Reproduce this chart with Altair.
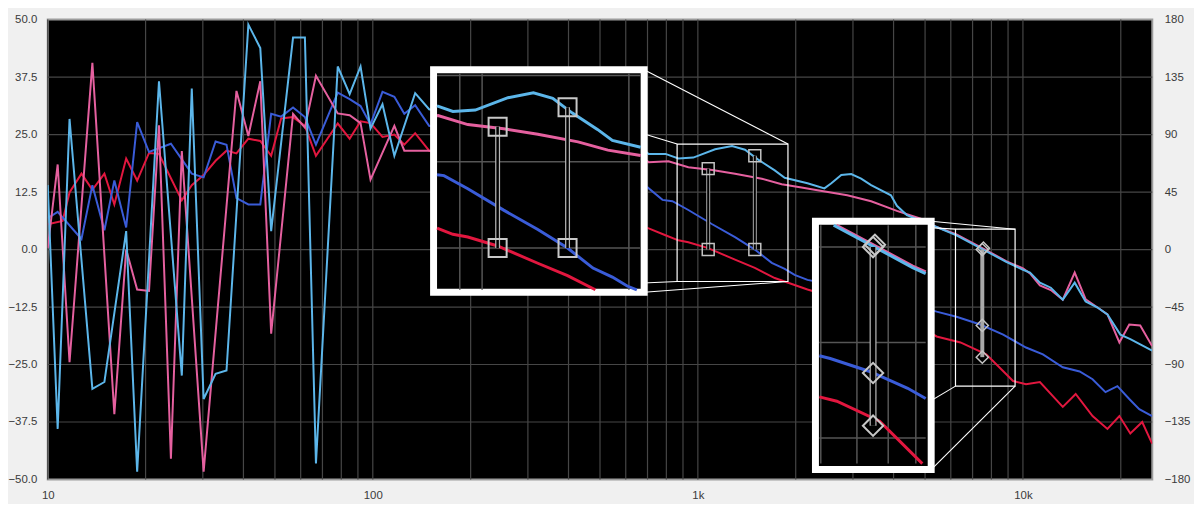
import math
import altair as alt
import pandas as pd

# ---------------- data (frequency in Hz, level in dB) ----------------
LB_F = [10.0, 10.73, 11.67, 13.72, 14.94, 17.43, 18.84, 21.99, 25.85, 27.74, 30.17, 32.84, 35.48,
        41.42, 45.07, 48.68, 56.84, 61.82, 66.85, 78.01, 84.88, 91.69, 98.40, 107.1, 116.5, 135.0,
        149.0, 194.7, 276.7, 422.1, 643.9, 705.6, 795.0, 871.2, 968.3, 1130, 1274, 1396, 1529, 1724,
        1850, 2174, 2451, 2574, 2762, 2963, 3179, 3412, 3926, 4095, 4394, 5426, 6246, 7552, 8879,
        10007, 10512, 11279, 12185, 13262, 14429, 15589, 16963, 18197, 19943, 21396, 24973]
LB_DB = [14, -39, 28.4, -30.3, -28.8, 4, -48.3, 36.6, -27.4, 35, -32.5, -27, -26.3,
         48.9, 43.8, 4, 46.1, 46.1, -46.5, 39.8, 33.8, 39.8, 26.3, 31.6, 20.4, 34,
         30.5, 29, 31, 27, 23.2, 20.8, 20.8, 19.8, 20, 21.8, 22.5, 21.7, 19.6, 17.2,
         15.6, 14.4, 13.3, 14.4, 16.2, 16.4, 15.4, 14, 11.8, 9.5, 7.5, 4.9, 3.1, 0, -2.7,
         -4.4, -5, -7.2, -8.3, -10.9, -7.2, -11.3, -12.6, -14.1, -18.5, -19.5, -22]

PK_F = [10.0, 10.73, 11.67, 13.72, 16.03, 17.43, 18.84, 20.49, 21.99, 23.93, 25.85, 30.17, 38.07,
        41.42, 45.07, 48.68, 56.84, 61.82, 66.85, 78.01, 84.88, 91.69, 98.40, 116.5, 125.0, 135.0,
        149.0, 194.7, 318.7, 485.9, 643.9, 705.6, 812.0, 934.8, 1107, 1301, 1573, 1811, 2084, 2333,
        2881, 3412, 4095, 4851, 5426, 6246, 7552, 8879, 10007, 10512, 11279, 12185, 13262, 14429,
        15589, 16963, 18197, 19803, 21240, 22954, 24973]
PK_DB = [0.3, 18.5, -24.5, 40.6, -35.8, 0, -8.7, -9, 27, -45.5, 21.4, -48.3, 34.5,
         24.7, 36.6, -18.3, 29.5, 26.5, 37.8, 29.6, 29.2, 27.5, 15.2, 26.9, 21.5, 21.5,
         21.5, 21.5, 22, 22.5, 21, 19, 19.2, 17.9, 17.3, 16.5, 15.4, 14.2, 13.5, 12.9,
         11.8, 10.5, 8.4, 6.7, 4.9, 3.3, 0.2, -2.5, -4.1, -5.2, -7.8, -8.8, -10.9, -5,
         -10.8, -12.6, -14.1, -20.2, -16.3, -16.5, -21]

BL_F = [10.0, 10.73, 12.70, 13.72, 14.94, 16.03, 17.43, 18.84, 20.49, 23.93, 27.74, 30.17, 32.84,
        35.48, 38.07, 41.42, 45.07, 48.68, 52.24, 56.84, 61.82, 66.85, 78.01, 84.88, 91.69, 98.40,
        107.1, 116.5, 125.0, 135.0, 149.0, 240.4, 393.4, 559.4, 700.6, 778.4, 835.2, 934.8, 1107,
        1301, 1497, 1688, 1850, 1984, 2174, 3247, 4615, 5426, 6246, 7394, 8693, 10220, 11519,
        13262, 14945, 16377, 17945, 19527, 21240, 22793, 24973]
BL_DB = [6.8, 8.2, 2.3, 14, 4.2, 15, 4.8, 27.7, 21.2, 23, 16.5, 15.7, 23.5,
         22.8, 11.2, 9.8, 9.8, 29.5, 28.9, 30.9, 28.8, 22.8, 34.1, 32.7, 31.2, 27.2,
         34.3, 33.2, 29.5, 31.4, 26.9, 24, 20, 16, 13.5, 10.8, 10.5, 8.6, 5.5,
         2.7, 0, -2.9, -4.2, -5.5, -6.6, -9, -12, -13.5, -14.6, -16.3, -18.5, -21.3, -22.8,
         -25.6, -26.5, -28.2, -31, -29.7, -32.5, -34.7, -36.2]

RD_F = [10.0, 11.11, 11.67, 12.70, 13.72, 14.94, 16.03, 17.43, 18.84, 20.49, 21.99, 23.93, 25.85,
        27.74, 30.17, 32.84, 35.48, 38.07, 41.42, 45.07, 48.68, 52.24, 56.84, 61.82, 66.85, 78.01,
        84.88, 91.69, 98.40, 107.1, 116.5, 125.0, 135.0, 149.0, 194.7, 318.7, 485.9, 643.9, 705.6,
        795.0, 871.2, 934.8, 1076, 1301, 1497, 1724, 1984, 2174, 3485, 4615, 5426, 6425, 7713,
        9326, 10220, 11279, 13262, 14530, 16377, 18197, 19803, 21396, 23279, 24973]
RD_DB = [5.5, 6.2, 12.4, 16.5, 13, 16.5, 9.8, 19.8, 15, 21, 20.8, 15.5, 10.7,
         14, 16.2, 19.3, 21.5, 20.9, 24.1, 23.6, 20.4, 28.5, 28.8, 26.9, 20.4, 27.4,
         24.1, 27.9, 27.5, 24.5, 25, 22.8, 25.3, 21.5, 18, 14, 9, 5.7, 4.6,
         3.1, 2, 1.6, 0.3, -2.2, -4, -6.2, -7.7, -8.7, -13, -16, -18.9, -20.2, -22.8,
         -28.6, -29.3, -28.8, -34.2, -31.4, -36.2, -39, -36.2, -40, -37.5, -42.2]

GRID_F = [10, 20, 30, 40, 50, 60, 70, 80, 90, 100, 200, 300, 400, 500, 600, 700, 800, 900,
          1000, 2000, 3000, 4000, 5000, 6000, 7000, 8000, 9000, 10000, 20000]
GRID_DB = [-37.5, -25, -12.5, 0, 12.5, 25, 37.5]
X_LABELS = [10, 100, 1000, 10000]
LEFT_TICKS = [-50, -37.5, -25, -12.5, 0, 12.5, 25, 37.5, 50]
RIGHT_TICKS = [-180, -135, -90, -45, 0, 45, 90, 135, 180]

# zoom insets: anchor in source, anchor in enlarged view, magnification,
# inner window, frame and source box (f0, f1, db0, db1)
INSETS = [
    dict(src=(1076, 0.0), big=(242.1, 0.32), k=1.5,
         clip=(157.6, 666.9, -8.75, 38.34), frame=(153.8, 683.5, -9.29, 39.09),
         box=(863.3, 1893, -6.95, 22.94),
         marks=[(1076, 17.6), (1076, 0.0), (1497, 20.4), (1497, 0.0)],
         bars=[(1076, 17.6, 0.0), (1497, 20.4, 0.0)], shape="square",
         s_small=144, s_big=330, bar_small=4, bar_big=5),
    dict(src=(7499, 0.0), big=(3459, 0.54), k=1.66,
         clip=(2365, 5022, -46.54, 5.29), frame=(2300, 5221, -47.84, 6.16),
         box=(6202, 9460, -29.70, 4.43),
         marks=[(7499, 0.0), (7560, 0.3), (7499, -16.5), (7499, -23.4)],
         bars=[(7499, 0.0, -23.4)], shape="diamond",
         s_small=150, s_big=420, bar_small=4, bar_big=7),
]

SERIES = [("red", RD_F, RD_DB, "#e2173f"), ("blue", BL_F, BL_DB, "#3a5cd8"),
          ("pink", PK_F, PK_DB, "#e5609f"), ("lightblue", LB_F, LB_DB, "#5cb6ea")]

FONT = "Liberation Sans"
xs = alt.Scale(type="log", domain=[10, 25000], nice=False)
ys = alt.Scale(domain=[-50, 50], nice=False, zero=False)
ax_style = dict(domain=False, ticks=False, grid=False, labelFont=FONT, labelFontSize=11.5,
                labelColor="#3a3a3a", title=None, labelFlush=False, labelOverlap=False)
XAXIS = alt.Axis(values=X_LABELS, labelPadding=10,
                 labelExpr="datum.value >= 1000 ? (datum.value/1000) + 'k' : '' + datum.value",
                 **ax_style)
YAXIS = alt.Axis(values=LEFT_TICKS, format=".1f", labelPadding=11, **ax_style)


def clip_seg(x0, y0, x1, y1, xmin, xmax, ymin, ymax):
    dx, dy = x1 - x0, y1 - y0
    t0, t1 = 0.0, 1.0
    for p, q in ((-dx, x0 - xmin), (dx, xmax - x0), (-dy, y0 - ymin), (dy, ymax - y0)):
        if p == 0:
            if q < 0:
                return None
        else:
            t = q / p
            if p < 0:
                if t > t1:
                    return None
                t0 = max(t0, t)
            else:
                if t < t0:
                    return None
                t1 = min(t1, t)
    return (x0 + t0 * dx, y0 + t0 * dy, x0 + t1 * dx, y0 + t1 * dy, t0, t1)


def clip_poly(px, py, rect):
    pieces, cur = [], []
    for i in range(len(px) - 1):
        r = clip_seg(px[i], py[i], px[i + 1], py[i + 1], *rect)
        if r is None:
            if cur:
                pieces.append(cur)
                cur = []
            continue
        ax, ay, bx, by, t0, t1 = r
        if cur and t0 == 0.0:
            cur.append((bx, by))
        else:
            if cur:
                pieces.append(cur)
            cur = [(ax, ay), (bx, by)]
        if t1 < 1.0:
            pieces.append(cur)
            cur = []
    if cur:
        pieces.append(cur)
    return pieces


def mag(ins, f, d):
    L = math.log10(ins["big"][0]) + (math.log10(f) - math.log10(ins["src"][0])) * ins["k"]
    return L, ins["big"][1] + (d - ins["src"][1]) * ins["k"]


def X(field):
    return alt.X(field, type="quantitative", scale=xs, axis=XAXIS)


def Y(field):
    return alt.Y(field, type="quantitative", scale=ys, axis=YAXIS)


layers = []

# grid
vgrid = pd.DataFrame({"g": GRID_F, "y0": -50, "y1": 50})
layers.append(alt.Chart(vgrid).mark_rule(color="#464646", strokeWidth=1.2).encode(
    x=X("g"), y=Y("y0"), y2="y1"))
hgrid = pd.DataFrame({"h": GRID_DB, "x0": 10, "x1": 25000})
layers.append(alt.Chart(hgrid).mark_rule(color="#464646", strokeWidth=1.2).encode(
    y=Y("h"), x=X("x0"), x2="x1"))

# main curves
for name, F, D, col in SERIES:
    df = pd.DataFrame({"f": F, "d": D, "i": range(len(F))})
    layers.append(alt.Chart(df).mark_line(color=col, strokeWidth=2, clip=True).encode(
        x=X("f"), y=Y("d"), order="i:Q"))

# source-box markers, boxes and connectors
for ins in INSETS:
    bars = pd.DataFrame([{"f": b[0], "d0": b[1], "d1": b[2]} for b in ins["bars"]])
    layers.append(alt.Chart(bars).mark_rule(color="#a8a8a8", strokeWidth=ins["bar_small"]).encode(
        x=X("f"), y=Y("d0"), y2="d1"))
    if ins["shape"] == "square":
        layers.append(alt.Chart(bars).mark_rule(color="#000000", strokeWidth=2).encode(
            x=X("f"), y=Y("d0"), y2="d1"))
    mk = pd.DataFrame([{"f": m[0], "d": m[1]} for m in ins["marks"]])
    layers.append(alt.Chart(mk).mark_point(shape=ins["shape"], size=ins["s_small"], filled=False,
                                           color="#c4c4c4", strokeWidth=1.5, opacity=1).encode(
        x=X("f"), y=Y("d")))
    f0, f1, d0, d1 = ins["box"]
    layers.append(alt.Chart(pd.DataFrame([{"a": f0, "b": f1, "c": d0, "e": d1}]))
                  .mark_rect(fillOpacity=0, stroke="white", strokeWidth=1.2).encode(
        x=X("a"), x2="b", y=Y("c"), y2="e"))
    F0, F1, D0, D1 = ins["frame"]
    con = pd.DataFrame([
        {"xa": F0, "ya": D1, "xb": f0, "yb": d1},
        {"xa": F1, "ya": D1, "xb": f1, "yb": d1},
        {"xa": F0, "ya": D0, "xb": f0, "yb": d0},
        {"xa": F1, "ya": D0, "xb": f1, "yb": d0},
    ])
    layers.append(alt.Chart(con).mark_rule(color="white", strokeWidth=1.1).encode(
        x=X("xa"), y=Y("ya"), x2="xb", y2="yb"))

# enlarged views
for ins in INSETS:
    F0, F1, D0, D1 = ins["frame"]
    layers.append(alt.Chart(pd.DataFrame([{"a": F0, "b": F1, "c": D0, "e": D1}]))
                  .mark_rect(fill="black", stroke="white", strokeWidth=7).encode(
        x=X("a"), x2="b", y=Y("c"), y2="e"))
    c0, c1, e0, e1 = ins["clip"]
    rect = (math.log10(c0), math.log10(c1), e0, e1)
    vg = []
    for g in GRID_F:
        L, _ = mag(ins, g, 0)
        if rect[0] < L < rect[1]:
            vg.append({"f": 10 ** L, "y0": e0, "y1": e1})
    if vg:
        layers.append(alt.Chart(pd.DataFrame(vg)).mark_rule(color="#555555", strokeWidth=1.5).encode(
            x=X("f"), y=Y("y0"), y2="y1"))
    hg = []
    for h in GRID_DB:
        _, d = mag(ins, 1000, h)
        if e0 < d < e1:
            hg.append({"d": d, "x0": c0, "x1": c1})
    if hg:
        layers.append(alt.Chart(pd.DataFrame(hg)).mark_rule(color="#555555", strokeWidth=1.5).encode(
            y=Y("d"), x=X("x0"), x2="x1"))
    for name, F, D, col in SERIES:
        pts = [mag(ins, f, d) for f, d in zip(F, D)]
        pieces = clip_poly([p[0] for p in pts], [p[1] for p in pts], rect)
        rows = []
        for pi, piece in enumerate(pieces):
            for j, (L, d) in enumerate(piece):
                rows.append({"f": 10 ** L, "d": d, "p": pi, "i": j})
        if rows:
            layers.append(alt.Chart(pd.DataFrame(rows)).mark_line(color=col, strokeWidth=3).encode(
                x=X("f"), y=Y("d"), detail="p:N", order="i:Q"))
    brs = []
    for b in ins["bars"]:
        L, d0 = mag(ins, b[0], b[1])
        _, d1 = mag(ins, b[0], b[2])
        brs.append({"f": 10 ** L, "d0": d0, "d1": d1})
    brs = pd.DataFrame(brs)
    layers.append(alt.Chart(brs).mark_rule(color="#b4b4b4", strokeWidth=ins["bar_big"]).encode(
        x=X("f"), y=Y("d0"), y2="d1"))
    layers.append(alt.Chart(brs).mark_rule(color="#000000", strokeWidth=ins["bar_big"] - 2.5).encode(
        x=X("f"), y=Y("d0"), y2="d1"))
    mks = []
    for m in ins["marks"]:
        L, d = mag(ins, m[0], m[1])
        mks.append({"f": 10 ** L, "d": d})
    layers.append(alt.Chart(pd.DataFrame(mks)).mark_point(
        shape=ins["shape"], size=ins["s_big"], filled=False, color="#c8c8c8",
        strokeWidth=2, opacity=1).encode(x=X("f"), y=Y("d")))

main = alt.layer(*layers)

right = alt.Chart(pd.DataFrame({"p": [-180, 180]})).mark_point(opacity=0).encode(
    y=alt.Y("p:Q", scale=alt.Scale(domain=[-180, 180], nice=False, zero=False),
            axis=alt.Axis(orient="right", values=RIGHT_TICKS, format="d", labelPadding=12,
                          **ax_style)))

chart = alt.layer(main, right).resolve_scale(y="independent").properties(
    width=1112, height=463,
    autosize=alt.AutoSizeParams(type="none"),
    padding={"left": 40, "top": 10, "right": 42, "bottom": 23},
    background="#f0f0f0",
).configure_view(fill="black", stroke="#9c9c9c", strokeWidth=2)

chart.save("out.html", embed_options={"renderer": "svg", "actions": False})
